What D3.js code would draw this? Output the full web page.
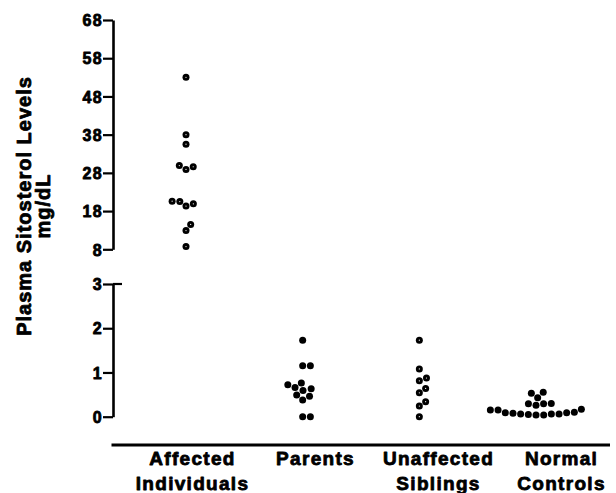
<!DOCTYPE html>
<html>
<head>
<meta charset="utf-8">
<script src="https://cdn.jsdelivr.net/npm/d3@7"></script>
<style>
  html, body { margin: 0; padding: 0; background: #fff; }
  svg { display: block; }
  text { font-family: "Liberation Sans", Arimo, Arial, Helvetica, sans-serif; font-weight: bold; fill: #000; stroke: #000; stroke-width: 0.8px; stroke-linejoin: round; }
</style>
</head>
<body>
<svg id="chart" width="616" height="493"></svg>
<script>
// ---- data ----
const categories = ["Affected Individuals", "Parents", "Unaffected Siblings", "Normal Controls"];
const categoryLines = [["Affected", "Individuals"], ["Parents"], ["Unaffected", "Siblings"], ["Normal", "Controls"]];
const affected = [53, 38, 35.5, 29.6, 28.9, 29.9, 20.5, 19.3, 19.9, 20.6, 14.5, 12.9, 8.7];
const parents = [1.73, 1.15, 1.15, 0.76, 0.66, 0.59, 0.63, 0.72, 0.46, 0.38, 0.49, 0.0, 0.0];
const siblings = [1.73, 1.08, 0.875, 0.81, 0.64, 0.54, 0.34, 0.24, 0.0];
const normals = [0.53, 0.55, 0.43, 0.30, 0.29, 0.26, 0.29, 0.17, 0.15, 0.15, 0.10, 0.08, 0.06, 0.06, 0.05, 0.04, 0.04, 0.06, 0.09, 0.09];
const upperTicks = [8, 18, 28, 38, 48, 58, 68];
const lowerTicks = [0, 1, 2, 3];
const yTitle = ["Plasma Sitosterol Levels", "mg/dL"];

// ---- scales ----
const svg = d3.select("#chart");
const axisX = 113;
const yUpper = d3.scaleLinear().domain([8, 68]).range([249.3, 20]);
const yLower = d3.scaleLinear().domain([0, 3]).range([416.7, 284]);
const x = d3.scalePoint().domain(categories).range([186, 536]);
const xLabel = d3.scalePoint().domain(categories).range([192, 561]);

// ---- axes ----
function styleAxis(g) {
  g.select(".domain").attr("stroke", "#000").attr("stroke-width", 2.6);
  g.selectAll(".tick line").attr("stroke", "#000").attr("stroke-width", 2.2);
  g.selectAll(".tick text")
    .style("font-size", "16px")
    .style("letter-spacing", "1.4px")
    .attr("dy", "0.36em");
}
svg.append("g")
  .attr("transform", `translate(${axisX},0)`)
  .call(d3.axisLeft(yUpper).tickValues(upperTicks).tickFormat(d3.format("d")).tickSize(10).tickSizeOuter(0).tickPadding(0))
  .call(styleAxis);

const lowerG = svg.append("g")
  .attr("transform", `translate(${axisX},0)`)
  .call(d3.axisLeft(yLower).tickValues(lowerTicks).tickFormat(d3.format("d")).tickSize(10).tickSizeOuter(0).tickPadding(0))
  .call(styleAxis);
// cap on top of the lower axis
lowerG.append("line")
  .attr("x1", 0).attr("x2", 9)
  .attr("y1", yLower(3)).attr("y2", yLower(3))
  .attr("stroke", "#000").attr("stroke-width", 2.2);

// x axis baseline
svg.append("line")
  .attr("x1", 111.5).attr("x2", 610)
  .attr("y1", 445).attr("y2", 445)
  .attr("stroke", "#000").attr("stroke-width", 2.8);

// category labels
const xg = svg.append("g")
  .attr("transform", "translate(0,445)")
  .call(d3.axisBottom(xLabel).tickSize(0).tickFormat(() => ""));
xg.select(".domain").remove();
xg.selectAll(".tick").each(function(d, i) {
  const t = d3.select(this).append("text")
    .attr("text-anchor", "middle")
    .style("font-size", "19px")
    .style("letter-spacing", "1.3px");
  categoryLines[i].forEach((line, j) => {
    t.append("tspan").attr("x", 0).attr("y", 20 + j * 25).text(line);
  });
});

// y title
const yt = svg.append("text")
  .attr("transform", "translate(0,206) rotate(-90)")
  .attr("text-anchor", "middle")
  .style("font-size", "20px")
  .style("letter-spacing", "1px");
yt.append("tspan").attr("x", 0).attr("y", 31).text(yTitle[0]);
yt.append("tspan").attr("x", 0).attr("y", 49.5).text(yTitle[1]);

// ---- beeswarm dodge ----
function dodge(ys, d) {
  const order = ys.map((y, i) => i).sort((a, b) => ys[b] - ys[a]);
  const placed = [];
  const xs = new Array(ys.length);
  for (const i of order) {
    const y = ys[i];
    const cands = [0];
    for (const p of placed) {
      const dy = Math.abs(p.y - y);
      if (dy < d) {
        const dx = Math.sqrt(d * d - dy * dy);
        cands.push(p.x + dx, p.x - dx);
      }
    }
    const ok = cands.filter(c => placed.every(p => (c - p.x) ** 2 + (y - p.y) ** 2 >= d * d - 1e-6));
    ok.sort((a, b) => (Math.abs(a) - Math.abs(b)) || (b - a));
    const cx = ok[0];
    placed.push({ x: cx, y });
    xs[i] = cx;
  }
  return xs;
}

const groups = [
  { cat: categories[0], values: affected, scale: yUpper, ring: true },
  { cat: categories[1], values: parents, scale: yLower, ring: false },
  { cat: categories[2], values: siblings, scale: yLower, ring: true },
  { cat: categories[3], values: normals, scale: yLower, ring: false }
];

groups.forEach(g => {
  const ys = g.values.map(v => g.scale(v));
  const offs = dodge(ys, 7.7);
  const pts = g.values.map((v, i) => ({ x: x(g.cat) + offs[i], y: ys[i] }));
  const sel = svg.append("g").selectAll("g").data(pts).join("g")
    .attr("transform", p => `translate(${p.x},${p.y})`);
  sel.append("circle").attr("r", 3.5).attr("fill", "#000");
  if (g.ring) sel.append("circle").attr("r", 0.6).attr("fill", "#fff");
});
</script>
</body>
</html>
